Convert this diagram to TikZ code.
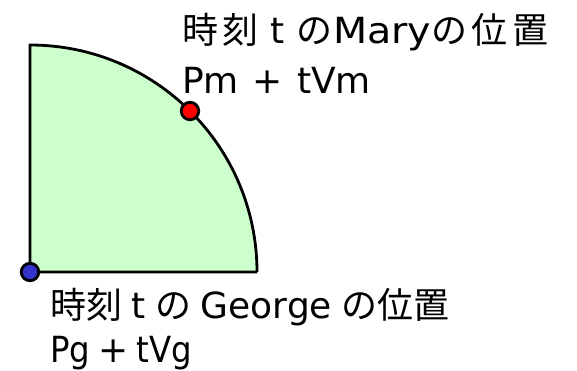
\documentclass[tikz,border=0pt]{standalone}
\usepackage{fontspec}
\usepackage{graphicx}
\setmainfont{DejaVu Sans}
\newfontfamily\cjk{Noto Sans CJK JP}
\newfontfamily\cjkwide[LetterSpace=13]{Noto Sans CJK JP}
\definecolor{areafill}{RGB}{204,255,204}
\definecolor{georgeblue}{RGB}{51,51,204}
\tikzset{
  lbl/.style={anchor=base west, inner sep=0pt, font=\fontsize{36}{42}\selectfont},
  dot/.style={circle, draw=black, line width=2.8pt, minimum size=17.5pt, inner sep=0pt},
  edge/.style={line width=2.8pt, line join=miter}
}
\begin{document}
\begin{tikzpicture}[x=1pt,y=-1pt]
\useasboundingbox (0,0) rectangle (577,370);
\coordinate (o) at (30,272);
\coordinate (top) at (30,45);
\coordinate (rt) at (257,272);
\fill[areafill] (o) -- (top) arc[start angle=-90, end angle=0, radius=227] -- cycle;
\draw[edge] (rt) -- (o) -- (top) arc[start angle=-90, end angle=0, radius=227];
\node[dot, fill=red] (m) at (190,111) {};
\node[dot, fill=georgeblue] (g) at (o) {};
\node[lbl] (mt) at (182,43) {{\cjkwide 時刻}\hspace{12pt}t\hspace{12pt}{\cjkwide の}\scalebox{1.1}[1]{Mary}{\cjkwide の位置}};
\node[lbl] (mp) at (182,93) {Pm\hspace{14pt}+\hspace{14pt}tVm};
\node[lbl] (gt) at (50,318) {{\cjk 時刻}\hspace{9.5pt}t\hspace{9.5pt}{\cjk の}\hspace{9.5pt}George\hspace{9.5pt}{\cjk の位置}};
\node[lbl] (gp) at (50,362) {\scalebox{0.9}[1]{Pg}\hspace{8pt}+\hspace{8pt}\scalebox{0.9}[1]{tVg}};
\end{tikzpicture}
\end{document}
